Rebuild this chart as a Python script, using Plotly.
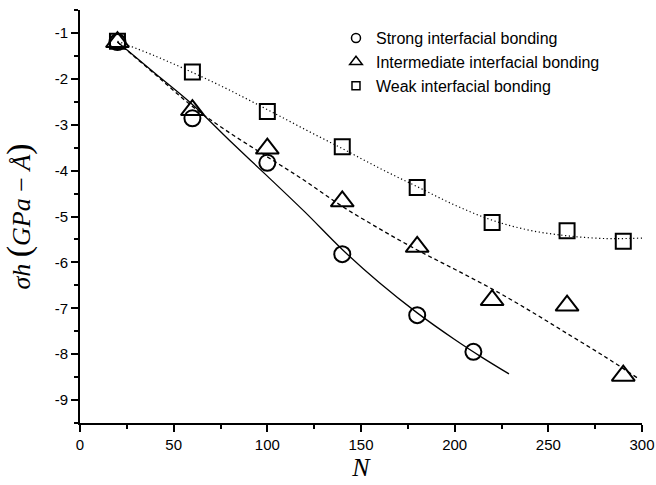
import plotly.graph_objects as go

# Measured data points
N_strong = [20, 60, 100, 140, 180, 210]
s_strong = [-1.2, -2.86, -3.83, -5.82, -7.15, -7.95]

N_inter = [20, 60, 100, 140, 180, 220, 260, 290]
s_inter = [-1.2, -2.68, -3.52, -4.67, -5.66, -6.82, -6.94, -8.47]

N_weak = [20, 60, 100, 140, 180, 220, 260, 290]
s_weak = [-1.18, -1.85, -2.71, -3.48, -4.37, -5.13, -5.31, -5.54]

# Fitted curves
fit_strong_x = [20, 40, 60, 80, 100, 120, 140, 160, 180, 200, 215, 229]
fit_strong_y = [-1.2, -1.88, -2.56, -3.35, -4.12, -4.9, -5.72, -6.45, -7.1, -7.68, -8.08, -8.43]

fit_inter_x = [20, 40, 60, 80, 100, 120, 140, 160, 180, 200, 220, 240, 260, 280, 298]
fit_inter_y = [-1.2, -1.9, -2.6, -3.18, -3.7, -4.22, -4.78, -5.27, -5.73, -6.15, -6.58, -7.05, -7.55, -8.05, -8.53]

fit_weak_x = [20, 40, 60, 80, 100, 120, 140, 160, 180, 200, 220, 240, 260, 280, 300]
fit_weak_y = [-1.18, -1.5, -1.86, -2.25, -2.67, -3.1, -3.52, -3.95, -4.35, -4.75, -5.08, -5.3, -5.42, -5.48, -5.47]

legend_names = ["Strong interfacial bonding", "Intermediate interfacial bonding", "Weak interfacial bonding"]

y_tickvals = [-1, -2, -3, -4, -5, -6, -7, -8, -9]
y_ticktext = ["-1", "-2", "-3", "-4", "-5", "-6", "-7", "-8", "-9"]
x_tickvals = [0, 50, 100, 150, 200, 250, 300]

fig = go.Figure()

# fit lines
fig.add_trace(go.Scatter(x=fit_strong_x, y=fit_strong_y, mode="lines", line=dict(color="black", width=1.3, shape="spline"), showlegend=False, hoverinfo="skip"))
fig.add_trace(go.Scatter(x=fit_inter_x, y=fit_inter_y, mode="lines", line=dict(color="black", width=1.3, dash="4px,3px", shape="spline"), showlegend=False, hoverinfo="skip"))
fig.add_trace(go.Scatter(x=fit_weak_x, y=fit_weak_y, mode="lines", line=dict(color="black", width=1.2, dash="1.2px,2.6px", shape="spline"), showlegend=False, hoverinfo="skip"))

# data markers
fig.add_trace(go.Scatter(x=N_strong, y=s_strong, mode="markers", showlegend=False,
                         marker=dict(symbol="circle-open", size=16, color="black", line=dict(width=2, color="black"))))
fig.add_trace(go.Scatter(x=N_inter, y=s_inter, mode="markers", showlegend=False,
                         marker=dict(symbol="triangle-up-open", size=20, color="black", line=dict(width=2, color="black"))))
fig.add_trace(go.Scatter(x=N_weak, y=s_weak, mode="markers", showlegend=False,
                         marker=dict(symbol="square-open", size=15, color="black", line=dict(width=2, color="black"))))

# legend entries (small symbols)
for name, sym, sz in zip(legend_names, ["circle-open", "triangle-up-open", "square-open"], [9, 11, 8]):
    fig.add_trace(go.Scatter(x=[None], y=[None], mode="markers", name=name,
                             marker=dict(symbol=sym, size=sz, color="black", line=dict(width=1.5, color="black"))))

ytitle = ('<i>σh</i> <span style="font-size:34px">(</span><i>GPa</i> − <i>Å</i>'
          '<span style="font-size:34px">)</span>')

fig.update_layout(
    width=656, height=485,
    margin=dict(l=80, r=14, t=10, b=62),
    paper_bgcolor="white", plot_bgcolor="white",
    font=dict(family="Liberation Sans, Arial, sans-serif", color="black", size=15),
    legend=dict(x=0.4555, y=0.973, xanchor="left", yanchor="top",
                font=dict(size=16, family="Liberation Sans, Arial, sans-serif"),
                bgcolor="rgba(0,0,0,0)", tracegroupgap=0, itemwidth=30),
    xaxis=dict(range=[0, 300], tickvals=x_tickvals, showgrid=False, zeroline=False, automargin=False,
               showline=True, linecolor="black", linewidth=2, ticks="outside", ticklen=7, tickwidth=1.5,
               tickcolor="black", tickfont=dict(size=15),
               minor=dict(tickmode="linear", tick0=0, dtick=25, ticks="outside", ticklen=4, tickwidth=1.5, tickcolor="black"),
               title=dict(text="<i>N</i>", font=dict(family="Liberation Serif, Times New Roman, serif", size=26), standoff=4)),
    yaxis=dict(range=[-9.5, -0.5], tickvals=y_tickvals, ticktext=y_ticktext, showgrid=False, zeroline=False, automargin=False,
               showline=True, linecolor="black", linewidth=2, ticks="outside", ticklen=7, tickwidth=1.5,
               tickcolor="black", tickfont=dict(size=15),
               minor=dict(tickmode="linear", tick0=0, dtick=0.5, ticks="outside", ticklen=4, tickwidth=1.5, tickcolor="black"),
               title=dict(text=ytitle, font=dict(family="Liberation Serif, Times New Roman, serif", size=26), standoff=18)),
)

fig.write_html("out.html", config={"displayModeBar": False},
               post_script="document.body.style.margin='0';document.body.style.overflow='hidden';")
